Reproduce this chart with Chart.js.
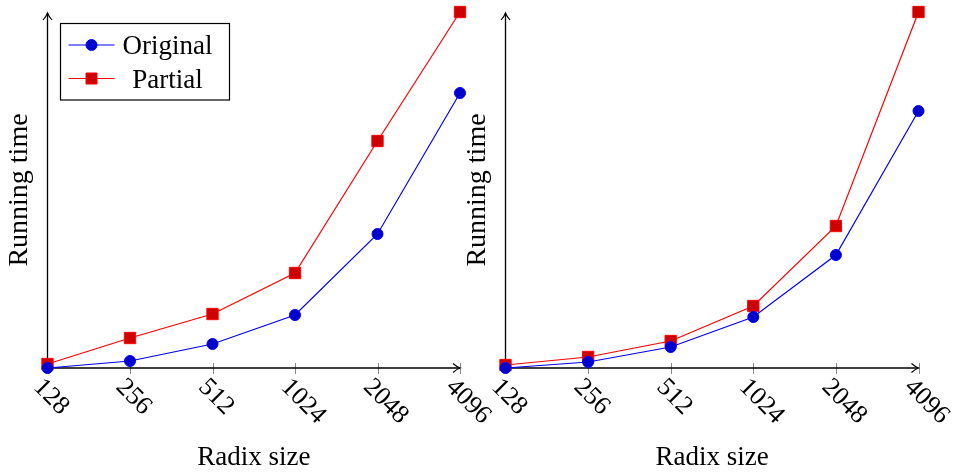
<!DOCTYPE html>
<html>
<head>
  <title>Radix size vs running time</title>
  <script src="https://cdn.jsdelivr.net/npm/chart.js@4.4.0/dist/chart.umd.min.js"></script>
  <style>
    body { margin: 0; background: #fff; }
    #wrap { position: relative; width: 955px; height: 473px; overflow: hidden; }
    canvas { position: absolute; top: 0; }
  </style>
</head>
<body>
<div id="wrap">
  <canvas id="chartA" width="500" height="473" style="left:0px"></canvas>
  <canvas id="chartB" width="497" height="473" style="left:458px"></canvas>
</div>
<script>
  // values (no y tick labels in the original)
  var radixSizes = ["128", "256", "512", "1024", "2048", "4096"];
  var originalA = [0, 7, 24, 53, 134, 275];
  var partialA = [4, 30, 54, 95, 227, 356];
  var originalB = [0, 6, 21, 51, 113, 257];
  var partialB = [3, 11, 27, 62, 142, 356];
  var seriesNames = ["Original", "Partial"];
  var yTitle = "Running time";
  var xTitle = "Radix size";

  var serif = "'Liberation Serif', 'Times New Roman', serif";

  function arrow(ctx, x, y, dir) {
    // small latex style arrow tip, dir = 'right' or 'up'
    ctx.beginPath();
    if (dir === 'right') {
      ctx.moveTo(x - 7, y - 4.5);
      ctx.quadraticCurveTo(x - 3, y - 1, x, y);
      ctx.quadraticCurveTo(x - 3, y + 1, x - 7, y + 4.5);
    } else {
      ctx.moveTo(x - 4.5, y + 7);
      ctx.quadraticCurveTo(x - 1, y + 3, x, y);
      ctx.quadraticCurveTo(x + 1, y + 3, x + 4.5, y + 7);
    }
    ctx.stroke();
  }

  // axes, ticks and titles drawn like the pgfplots "axis lines = left" style
  var texAxes = {
    id: 'texAxes',
    beforeDatasetsDraw: function(chart) {
      var ctx = chart.ctx;
      var a = chart.chartArea;
      var xs = chart.scales.x;
      var labels = chart.data.labels;
      ctx.save();

      // tick marks
      ctx.strokeStyle = '#8a8a8a';
      ctx.lineWidth = 1;
      for (var i = 0; i < labels.length; i++) {
        var px = Math.round(xs.getPixelForValue(i)) + 0.5;
        ctx.beginPath();
        ctx.moveTo(px, a.bottom - 5);
        ctx.lineTo(px, a.bottom + 6);
        ctx.stroke();
      }

      // axis lines with arrows
      ctx.strokeStyle = '#000';
      ctx.lineWidth = 1.3;
      ctx.beginPath();
      ctx.moveTo(a.left, a.bottom);
      ctx.lineTo(a.right, a.bottom);
      ctx.moveTo(a.left, a.bottom);
      ctx.lineTo(a.left, a.top + 1);
      ctx.stroke();
      ctx.lineWidth = 1.1;
      arrow(ctx, a.right, a.bottom, 'right');
      arrow(ctx, a.left, a.top + 1, 'up');

      // rotated tick labels
      ctx.fillStyle = '#000';
      ctx.font = '26px ' + serif;
      ctx.textAlign = 'left';
      ctx.textBaseline = 'alphabetic';
      for (var j = 0; j < labels.length; j++) {
        var tx = xs.getPixelForValue(j);
        ctx.save();
        ctx.translate(tx - 3, a.bottom + 8);
        ctx.rotate(Math.PI / 4);
        ctx.fillText(labels[j], 0, 17);
        ctx.restore();
      }

      // axis titles
      ctx.font = '27px ' + serif;
      ctx.textAlign = 'center';
      ctx.fillText(xTitle, (a.left + a.right) / 2, 465);
      ctx.save();
      ctx.translate(a.left - 20.5, (a.top + a.bottom) / 2);
      ctx.rotate(-Math.PI / 2);
      ctx.font = '28px ' + serif;
      ctx.fillText(yTitle, 0, 0);
      ctx.restore();

      ctx.restore();
    }
  };

  // boxed legend in the top left corner of the first plot
  var texLegend = {
    id: 'texLegend',
    afterDatasetsDraw: function(chart, args, opts) {
      if (!opts.show) return;
      var ctx = chart.ctx;
      var a = chart.chartArea;
      var bx = a.left + 13, by = 23.5, bw = 169, bh = 76.5;
      ctx.save();
      ctx.fillStyle = '#fff';
      ctx.fillRect(bx, by, bw, bh);
      ctx.strokeStyle = '#000';
      ctx.lineWidth = 1.2;
      ctx.strokeRect(bx, by, bw, bh);
      var rows = [45, 78.5];
      chart.data.datasets.forEach(function(ds, i) {
        var y = rows[i];
        ctx.strokeStyle = ds.borderColor;
        ctx.lineWidth = 1.2;
        ctx.beginPath();
        ctx.moveTo(bx + 8, y);
        ctx.lineTo(bx + 54, y);
        ctx.stroke();
        var mx = bx + 31;
        ctx.fillStyle = ds.pointBackgroundColor;
        ctx.strokeStyle = ds.pointBorderColor;
        ctx.lineWidth = 1;
        ctx.beginPath();
        if (ds.pointStyle === 'rect') {
          ctx.rect(mx - 5.5, y - 5.5, 11, 11);
        } else {
          ctx.arc(mx, y, 5.5, 0, Math.PI * 2);
        }
        ctx.fill();
        ctx.stroke();
        ctx.fillStyle = '#000';
        ctx.font = '27px ' + serif;
        ctx.textAlign = 'center';
        ctx.textBaseline = 'alphabetic';
        ctx.fillText(ds.label, bx + 107, y + 9);
      });
      ctx.restore();
    }
  };

  function makeChart(id, original, partial, rightPad, showLegend) {
    var ctx = document.getElementById(id).getContext('2d');
    return new Chart(ctx, {
      type: 'line',
      data: {
        labels: radixSizes,
        datasets: [
          {
            label: seriesNames[0],
            data: original,
            borderColor: '#0000ff',
            borderWidth: 1.2,
            pointStyle: 'circle',
            pointRadius: 5.5,
            pointBackgroundColor: '#0000cc',
            pointBorderColor: '#0000ff',
            pointBorderWidth: 1,
            tension: 0,
            clip: false
          },
          {
            label: seriesNames[1],
            data: partial,
            borderColor: '#ff0000',
            borderWidth: 1.2,
            pointStyle: 'rect',
            pointRadius: 8,
            pointBackgroundColor: '#cc0000',
            pointBorderColor: '#ff0000',
            pointBorderWidth: 1,
            tension: 0,
            clip: false
          }
        ]
      },
      options: {
        responsive: false,
        animation: false,
        events: [],
        layout: { padding: { left: 47.5, right: rightPad, top: 12, bottom: 105 } },
        scales: {
          x: { display: false },
          y: { display: false, min: 0, max: 356 }
        },
        plugins: {
          legend: { display: false },
          tooltip: { enabled: false },
          texLegend: { show: showLegend }
        }
      },
      plugins: [texAxes, texLegend]
    });
  }

  makeChart('chartA', originalA, partialA, 40, true);
  makeChart('chartB', originalB, partialB, 36.5, false);
</script>
</body>
</html>
